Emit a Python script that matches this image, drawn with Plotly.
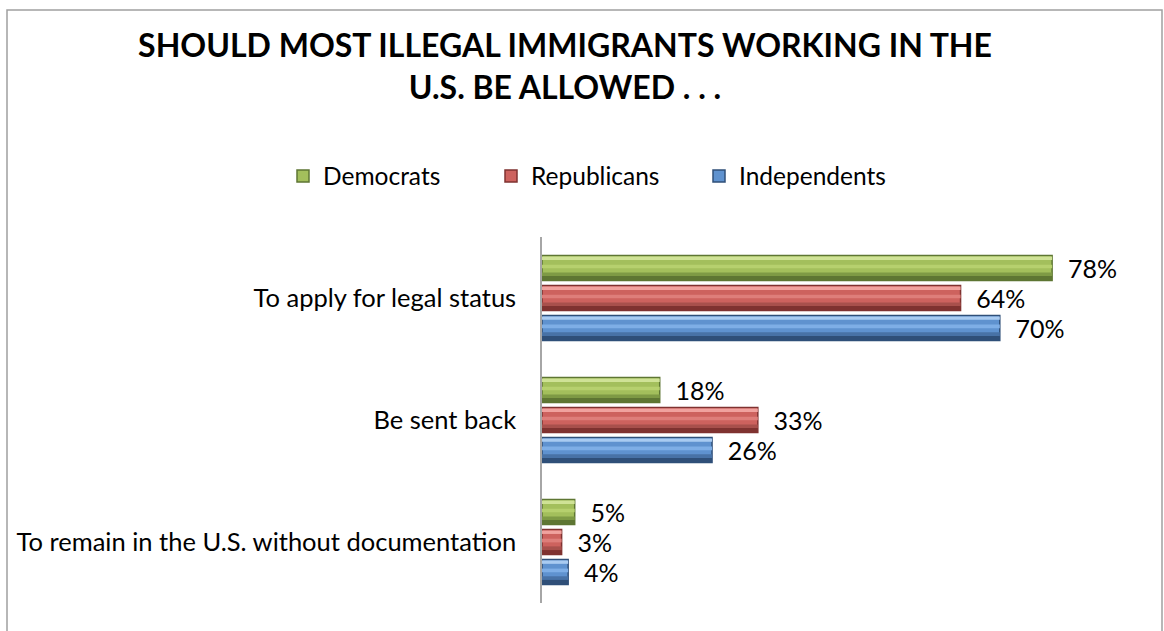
import plotly.graph_objects as go

categories = ["To apply for legal status", "Be sent back", "To remain in the U.S. without documentation"]
series_names = ["Democrats", "Republicans", "Independents"]
democrats = [78, 18, 5]
republicans = [64, 33, 3]
independents = [70, 26, 4]
values = [democrats, republicans, independents]

dark_colors = ["#5e7633", "#7f3230", "#2f4f78"]
lowmid_colors = ["#7e9a45", "#a8504c", "#4872a6"]
mid_colors = ["#a3bf5c", "#cd625e", "#5f92cf"]
light_colors = ["#cfe296", "#f0a29e", "#a9cbf1"]
stripe_colors = ["#b6d06e", "#de7e7a", "#7eaee6"]

W = 0.205
offsets = [-0.348, -0.102, 0.143]
FONT = "Lato"

fig = go.Figure()
for i, name in enumerate(series_names):
    off = offsets[i]
    # base bar carrying the label and legend entry
    fig.add_trace(go.Bar(
        y=categories, x=values[i], orientation="h", name=name,
        offset=off, width=W,
        marker=dict(color=mid_colors[i], line=dict(color=dark_colors[i], width=1.5)),
        text=values[i], texttemplate="  %{x}%", textposition="outside",
        constraintext="none",
        textfont=dict(family=FONT, size=25, color="#000000"),
        cliponaxis=False, showlegend=True, hoverinfo="skip",
    ))
    bands = [
        (0.008, 0.028, light_colors[i]),
        (0.075, 0.030, stripe_colors[i]),
        (0.138, 0.032, lowmid_colors[i]),
        (0.168, 0.035, dark_colors[i]),
    ]
    for b_off, b_w, col in bands:
        fig.add_trace(go.Bar(
            y=categories, x=values[i], orientation="h", name=name,
            offset=off + b_off, width=b_w,
            marker=dict(color=col, line=dict(width=0)),
            showlegend=False, hoverinfo="skip",
        ))

L, R, T, B = 542, 33, 237, 28
pw = 1164 - L - R
ph = 631 - T - B

fig.update_layout(
    width=1164, height=631,
    margin=dict(l=L, r=R, t=T, b=B),
    paper_bgcolor="white", plot_bgcolor="white",
    barmode="overlay",
    font=dict(family=FONT, size=25, color="#000000"),
    title=dict(
        text="<b>SHOULD MOST ILLEGAL IMMIGRANTS WORKING IN THE<br>U.S. BE ALLOWED . . .</b>",
        x=565 / 1164, xref="container", xanchor="center",
        y=1 - 57 / 631, yref="container", yanchor="top",
        font=dict(family=FONT, size=32, color="#000000"),
    ),
    legend=dict(
        orientation="h", x=(283 - L) / pw, xanchor="left",
        y=(631 - B - 176) / ph, yanchor="middle",
        font=dict(family=FONT, size=24.5), entrywidth=163, entrywidthmode="pixels",
        traceorder="normal",
    ),
    xaxis=dict(range=[0, pw / 6.54], showgrid=False, zeroline=False,
               showticklabels=False, showline=False, fixedrange=True),
    yaxis=dict(autorange="reversed", showline=True, linecolor="#a6a6a6", linewidth=1.5,
               ticks="", ticklabelstandoff=19, tickfont=dict(family=FONT, size=25.5),
               showgrid=False, zeroline=False),
    shapes=[dict(type="rect", xref="paper", yref="paper",
                 x0=(7 - L) / pw, x1=(1162 - L) / pw,
                 y0=(631 - B - 640) / ph, y1=(631 - B - 10) / ph,
                 line=dict(color="#a0a0a0", width=1.5), fillcolor="rgba(0,0,0,0)", layer="below")],
)

fig.write_html("out.html")
